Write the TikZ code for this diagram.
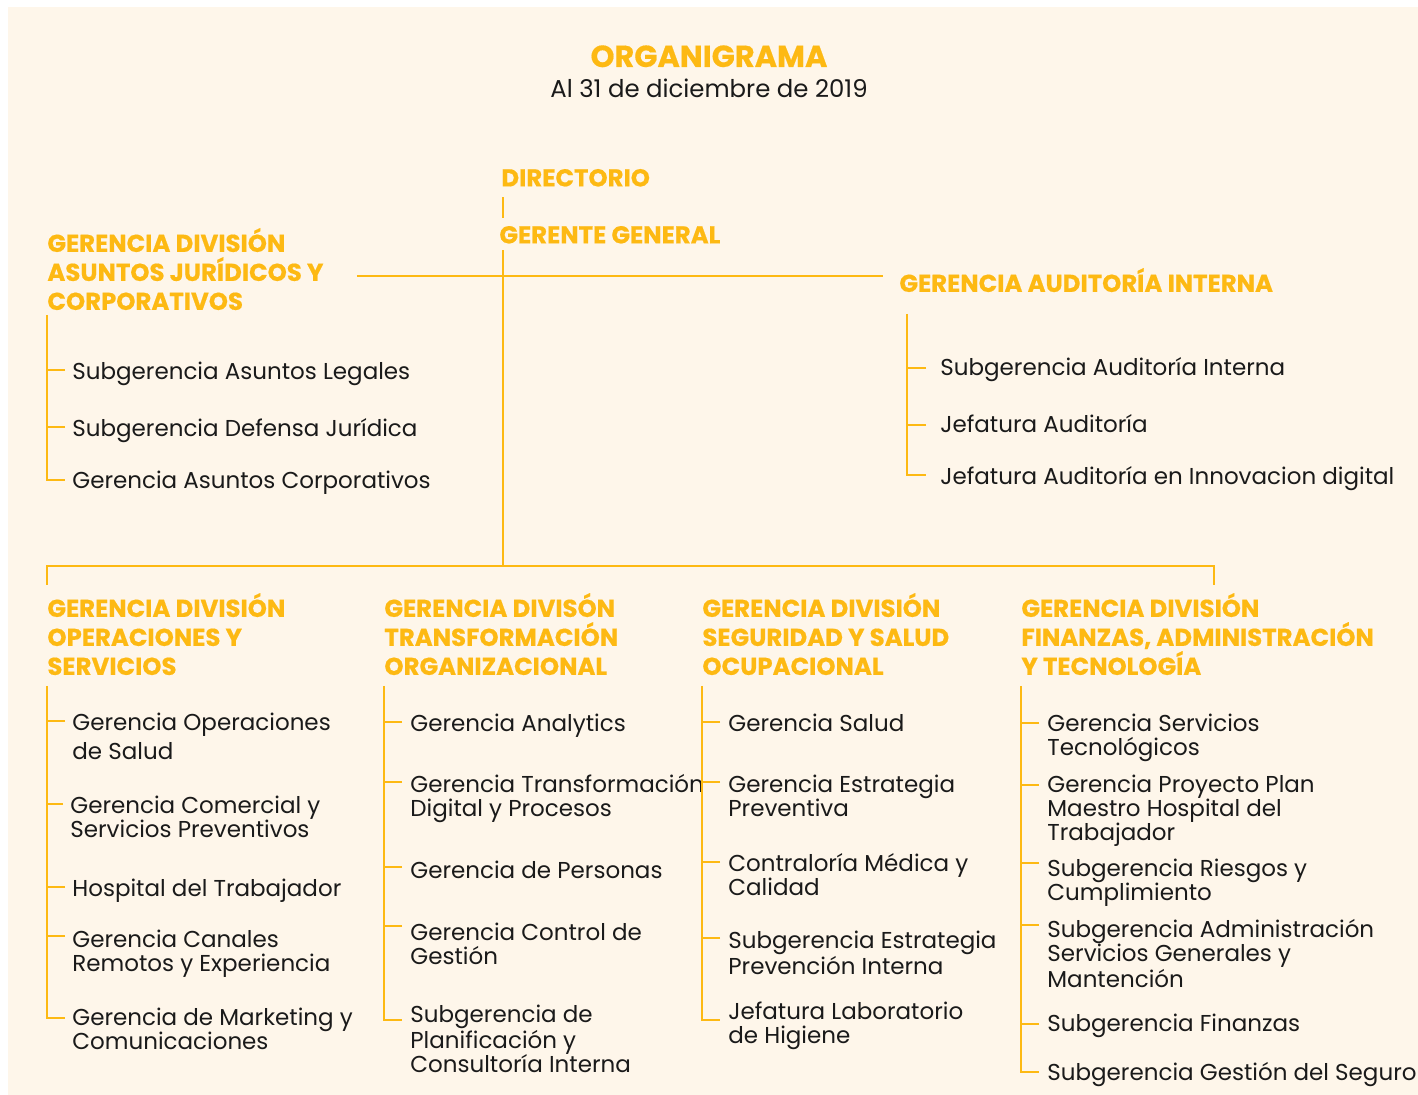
\documentclass[tikz,border=0pt]{standalone}
\usepackage{fontspec}
\setmainfont{Poppins}
\newfontfamily\headfont[BoldFeatures={FakeBold=0.5}]{Poppins}
\usetikzlibrary{positioning,calc}

\definecolor{orgyellow}{HTML}{FDB913}
\definecolor{orgcream}{HTML}{FEF6EA}
\definecolor{orgtext}{HTML}{1A1A1A}

\tikzset{
  titlebox/.style={font=\headfont\bfseries\fontsize{15.2}{17}\selectfont, text=orgyellow, inner sep=0pt, anchor=base},
  datebox/.style={font=\fontsize{12.2}{14}\selectfont, text=orgtext, inner sep=0pt, anchor=base},
  headbox/.style={font=\headfont\bfseries\fontsize{12.2}{14.5}\selectfont, text=orgyellow, align=left, inner sep=0pt,
    anchor=north west, yshift=10.15pt, execute at begin node=\strut},
  unitbox/.style={font=\fontsize{11.5}{12}\selectfont, text=orgtext, align=left, inner sep=0pt,
    anchor=north west, yshift=9.4pt, execute at begin node=\strut},
  link/.style={draw=orgyellow, line width=1pt},
}

\begin{document}
\begin{tikzpicture}[x=0.5pt,y=-0.5pt]
    % Background
    \useasboundingbox (0,0) rectangle (1418,1095);
    \fill[orgcream] (8,7) rectangle (1418,1095);

    % Title
    \node[titlebox] (titulo) at (709,67) {ORGANIGRAMA};
    \node[datebox] (fecha) at (709,98) {Al 31 de diciembre de 2019};

    % Top of the chart
    \node[headbox] (dir) at (501,186) {DIRECTORIO};
    \node[headbox] (gg) at (499,243) {GERENTE GENERAL};
    \node[headbox] (juri) at (47,248) {GERENCIA DIVISIÓN\\ASUNTOS JURÍDICOS Y\\CORPORATIVOS};
    \node[headbox] (audi) at (899,288) {GERENCIA AUDITORÍA INTERNA};

    \coordinate (trunk) at (503,276);
    \coordinate (bus) at (503,566);
    \draw[link] ($(dir.south -| trunk)+(0,2)$) -- ($(gg.north -| trunk)+(0,-5)$);
    \draw[link] ($(gg.south -| trunk)+(0,-2)$) -- (bus);
    \draw[link] ($(juri.east |- trunk)+(33,0)$) -- ($(audi.west |- trunk)+(-16,0)$);

    % Asuntos juridicos
    \node[unitbox] (juri-1) at (72,380) {Subgerencia Asuntos Legales};
    \node[unitbox] (juri-2) at (72,437) {Subgerencia Defensa Jurídica};
    \node[unitbox] (juri-3) at (72,489) {Gerencia Asuntos Corporativos};
    \coordinate (juritop) at (47,315);
    \foreach \n in {1,2}
        \draw[link] ($(juri-\n.north west)+(-7,9)$) -- ++(-18,0);
    \draw[link] (juritop) |- ($(juri-3.north west)+(-7,10)$);

    % Auditoria interna
    \node[unitbox] (audi-1) at (940,376) {Subgerencia Auditoría Interna};
    \node[unitbox] (audi-2) at (940,433) {Jefatura Auditoría};
    \node[unitbox] (audi-3) at (940,485) {Jefatura Auditoría en Innovacion digital};
    \coordinate (auditop) at (907,314);
    \foreach \n in {1,2}
        \draw[link] ($(audi-\n.north west)+(-14,11)$) -- ++(-19,0);
    \draw[link] (auditop) |- ($(audi-3.north west)+(-14,9)$);

    % Divisions under the general manager
    \node[headbox] (ops) at (47,613) {GERENCIA DIVISIÓN\\OPERACIONES Y\\SERVICIOS};
    \node[headbox] (tra) at (384,613) {GERENCIA DIVISÓN\\TRANSFORMACIÓN\\ORGANIZACIONAL};
    \node[headbox] (seg) at (702,613) {GERENCIA DIVISIÓN\\SEGURIDAD Y SALUD\\OCUPACIONAL};
    \node[headbox] (fin) at (1021,613) {GERENCIA DIVISIÓN\\FINANZAS, ADMINISTRACIÓN\\Y TECNOLOGÍA};

    \coordinate (busL) at (47,585);
    \coordinate (busR) at (1214,585);
    \draw[link] (busL) |- (bus) -| (busR);

    % Operaciones y servicios
    \node[unitbox] (ops-1) at (72,731) {Gerencia Operaciones\\[2.5pt]de Salud};
    \node[unitbox] (ops-2) at (70,814) {Gerencia Comercial y\\Servicios Preventivos};
    \node[unitbox] (ops-3) at (72,897) {Hospital del Trabajador};
    \node[unitbox] (ops-4) at (72,948) {Gerencia Canales\\Remotos y Experiencia};
    \node[unitbox] (ops-5) at (72,1026) {Gerencia de Marketing y\\Comunicaciones};
    \coordinate (opstop) at (47,686);
    \foreach \n/\d in {1/0,2/0,3/0,4/-2}
        \draw[link] ($(ops-\n.north west)+(-7,9+\d)$) -| (opstop);
    \draw[link] (opstop) |- ($(ops-5.north west)+(-7,11)$);

    % Transformacion organizacional
    \node[unitbox] (tra-1) at (410,732) {Gerencia Analytics};
    \node[unitbox] (tra-2) at (410,793) {Gerencia Transformación\\Digital y Procesos};
    \node[unitbox] (tra-3) at (410,879) {Gerencia de Personas};
    \node[unitbox] (tra-4) at (410,941) {Gerencia Control de\\Gestión};
    \node[unitbox] (tra-5) at (410,1023) {Subgerencia de\\Planificación y\\Consultoría Interna};
    \coordinate (tratop) at (384,686);
    \foreach \n/\d in {1/0,2/-1,3/-2,4/-5}
        \draw[link] ($(tra-\n.north west)+(-8,9+\d)$) -| (tratop);
    \draw[link] (tratop) |- ($(tra-5.north west)+(-8,16)$);

    % Seguridad y salud ocupacional
    \node[unitbox] (seg-1) at (728,732) {Gerencia Salud};
    \node[unitbox] (seg-2) at (728,793) {Gerencia Estrategia\\Preventiva};
    \node[unitbox] (seg-3) at (728,872) {Contraloría Médica y\\Calidad};
    \node[unitbox] (seg-4) at (728,949) {Subgerencia Estrategia\\Prevención Interna};
    \node[unitbox] (seg-5) at (728,1020) {Jefatura Laboratorio\\de Higiene};
    \coordinate (segtop) at (702,686);
    \foreach \n/\d in {1/0,2/-1,3/0,4/-1}
        \draw[link] ($(seg-\n.north west)+(-8,9+\d)$) -| (segtop);
    \draw[link] (segtop) |- ($(seg-5.north west)+(-8,19)$);

    % Finanzas, administracion y tecnologia
    \node[unitbox] (fin-1) at (1047,732) {Gerencia Servicios\\Tecnológicos};
    \node[unitbox] (fin-2) at (1047,793) {Gerencia Proyecto Plan\\Maestro Hospital del\\Trabajador};
    \node[unitbox] (fin-3) at (1047,877) {Subgerencia Riesgos y\\Cumplimiento};
    \node[unitbox] (fin-4) at (1047,938) {Subgerencia Administración\\Servicios Generales y\\Mantención};
    \node[unitbox] (fin-5) at (1047,1032) {Subgerencia Finanzas};
    \node[unitbox] (fin-6) at (1047,1081) {Subgerencia Gestión del Seguro};
    \coordinate (fintop) at (1021,686);
    \foreach \n/\d in {1/1,2/2,3/-4,4/-3,5/2}
        \draw[link] ($(fin-\n.north west)+(-8,9+\d)$) -| (fintop);
    \draw[link] (fintop) |- ($(fin-6.north west)+(-8,10)$);
\end{tikzpicture}
\end{document}
